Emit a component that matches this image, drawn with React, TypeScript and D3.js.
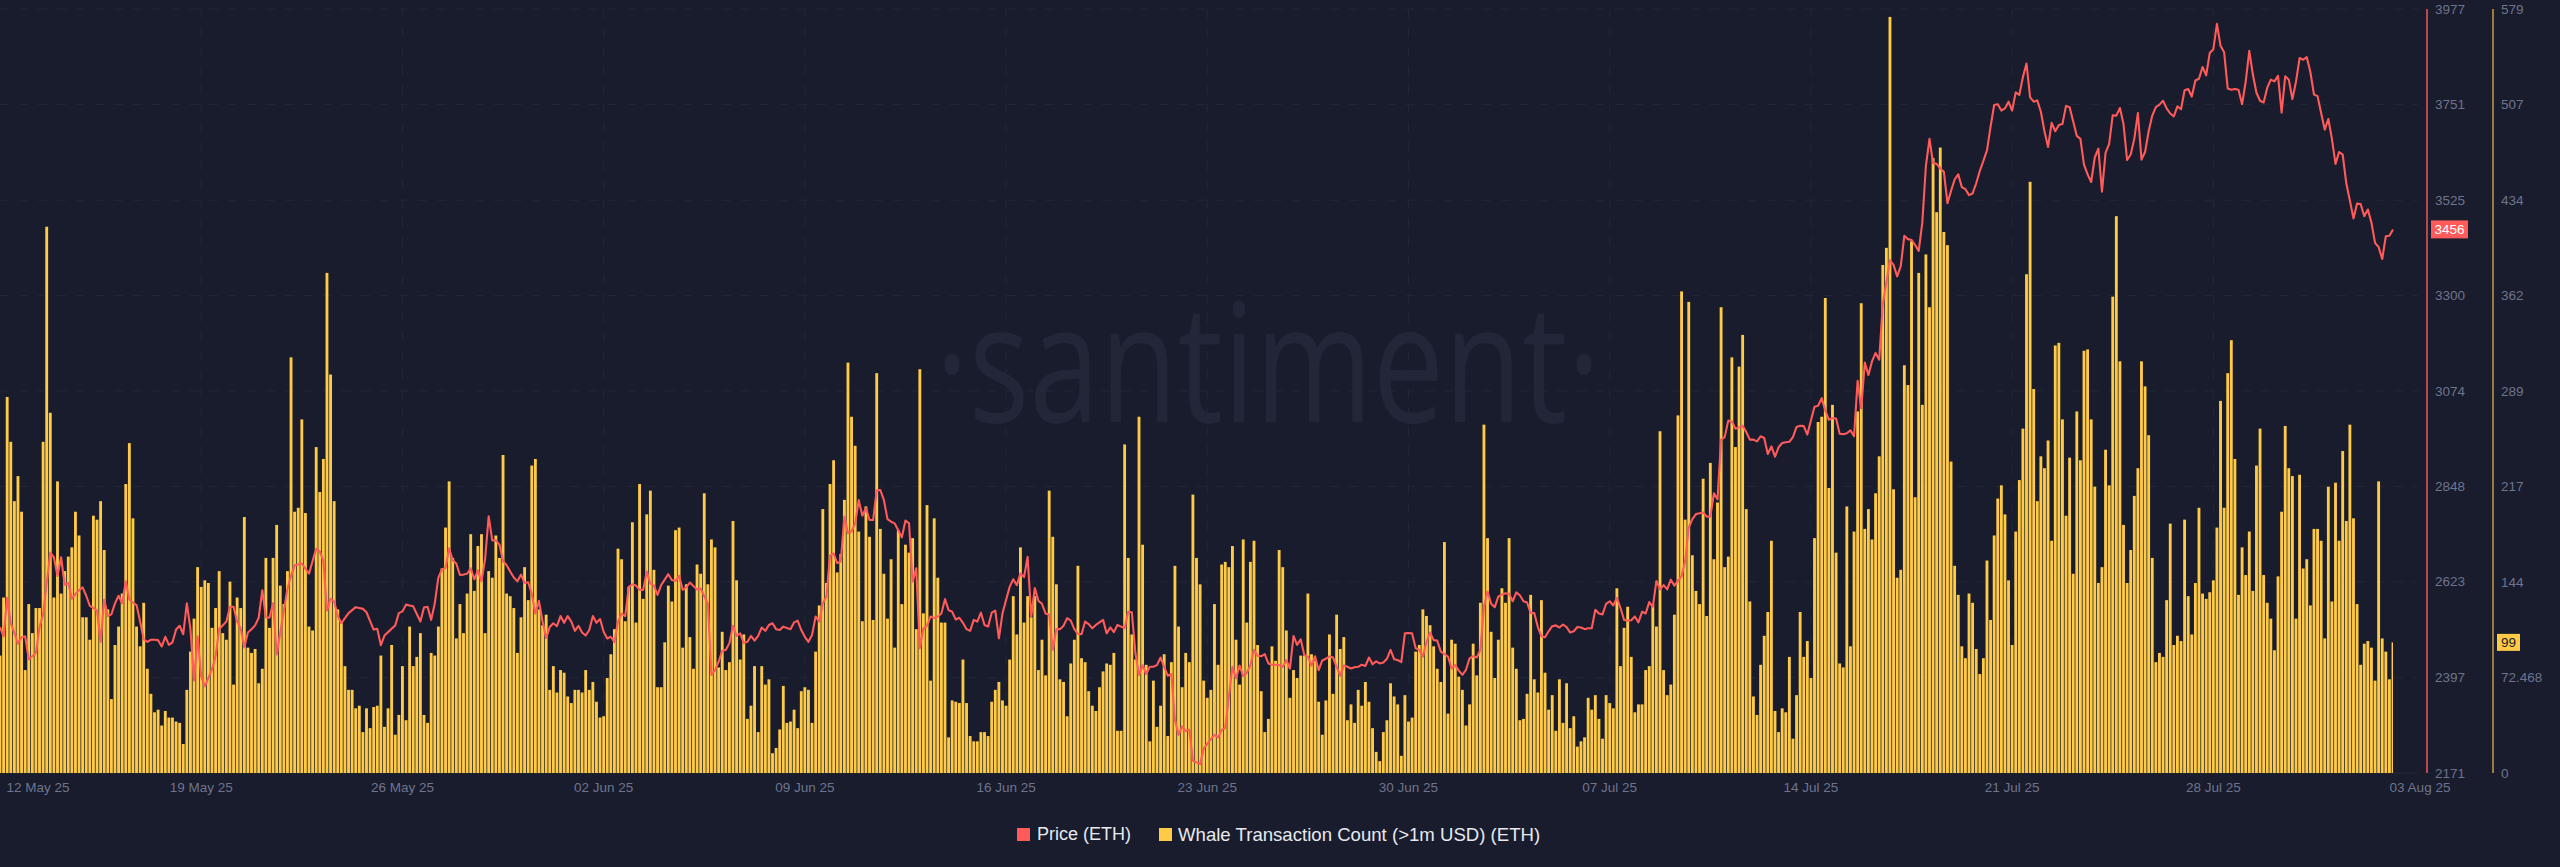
import React from "react";
import * as d3 from "d3";

// 3-hourly samples from 12 May 2025 00:00 UTC
const START = Date.UTC(2025, 4, 12);
const STEP = 3 * 3600 * 1000;

const whaleA = [89,133,285,251,206,225,198,78,128,106,125,125,251,414,273,133,221,136,153,164,171,198,180,118,118,101,195,192,206,169,124,56,97,111,136,219,250,193,111,96,129,79,60,46,48,36,47,42,42,39,38,22,63,92,117,156,141,146,144,110,125,153,106,101,145,67,133,125,194,95,91,94,68,79,163,110,163,188,142,128,153,315,198,201];
const whaleB = [268,197,111,108,247,213,238,379,302,206,124,115,81,63,63,49,51,31,49,34,50,51,89,35,49,97,29,44,81,40,111,81,88,106,44,38,91,89,111,155,186,221,163,102,128,106,136,181,138,172,181,106,153,148,180,163,241,136,134,125,91,118,156,131,233,238,124,112,120,63,81,61,78,76,58,53,63,63,61,78,63,69,54,42];
const whaleC = [43,72,90,109,170,162,115,141,190,114,219,132,196,214,154,65,65,99,142,130,184,186,95,143,103,79,158,151,212,143,177,171,80,107,78,84,191,146,86,105,41,51,81,31,81,67,71,15,19,33,66,38,39,48,34,62,65,63,38,92,127,200,144,219,237,152,166,207,311,270,248,183,115,202,179,116,303,185,151,117,162,95,184];
const whaleD = [128,173,167,178,109,306,121,203,70,193,148,114,114,27,55,54,53,86,53,28,24,24,31,31,28,54,63,69,55,51,86,134,105,171,114,134,118,134,78,101,74,214,179,143,71,69,43,83,101,157,87,84,62,51,47,65,77,83,82,91,32,32,249,163,105,86,270,173,82,24,70,35,51,90,28,84,157,111,65,91,84,211,163,143];
const whaleE = [70,57,63,128,82,158,160,156,172,101,67,177,114,160,176,97,62,31,41,96,85,169,156,108,57,78,72,89,89,136,90,85,54,29,55,105,60,120,94,103,40,52,38,63,51,69,54,34,16,9,31,40,68,58,52,13,59,39,42,92,97,124,119,112,96,79,69,175,45,101,98,73,63,36,52,98,74,129,264,178,107,72,101];
const whaleF = [140,129,178,95,79,40,41,60,135,71,61,131,76,48,59,32,71,38,68,34,43,20,24,27,57,48,59,41,26,59,53,49,140,81,110,126,88,46,52,52,78,81,128,111,259,78,59,67,120,271,365,192,357,165,138,128,223,119,235,162,205,353,156,164,315,247,308,332,200,130,58,44,82,104,122,176,47,31,49,46,88,26,59];
const whaleG = [122,88,100,72,178,266,270,360,216,279,167,83,80,202,96,183,274,356,185,200,177,212,240,385,398,573,215,148,154,309,294,403,209,379,279,393,353,466,425,474,410,400,236,157,135,96,87,136,129,94,75,87,161,116,180,208,218,196,146,97,183,222,261,378,448,291,206,240,231,252,176,324,326,268,195,239,151,274,237,320,321,268,217,144];
const whaleH = [156,245,218,361,422,312,188,144,169,210,231,312,293,256,163,84,91,88,131,189,97,104,100,192,134,105,144,201,136,132,137,146,186,282,201,303,328,238,135,171,150,183,138,233,261,150,129,117,93,149,198,263,231,225,117,226,155,162,127,185,185,176,102,217,130,220,176,244,191,264,193,128,82,98,100,95,70,221,102,92,71,99];
const whaleCounts = [...whaleA, ...whaleB, ...whaleC, ...whaleD, ...whaleE, ...whaleF, ...whaleG, ...whaleH];

const priceA = [2516,2494,2585,2525,2502,2477,2492,2494,2440,2447,2455,2516,2546,2620,2692,2681,2637,2681,2616,2620,2583,2594,2603,2610,2590,2566,2561,2555,2481,2581,2542,2546,2572,2590,2572,2624,2581,2574,2568,2529,2487,2481,2486,2486,2485,2470,2493,2474,2480,2510,2519,2499,2572,2512,2390,2494,2399,2376,2396,2416,2447,2512,2520,2529,2564,2564,2529,2512,2468,2503,2511,2520,2538,2603,2539,2538,2572,2451,2503,2555,2607,2637,2662,2664];
const priceB = [2666,2654,2642,2672,2701,2695,2672,2555,2583,2577,2542,2525,2537,2549,2556,2563,2561,2559,2551,2530,2510,2512,2473,2496,2504,2512,2520,2549,2553,2569,2567,2565,2547,2529,2562,2564,2533,2572,2633,2652,2656,2702,2674,2666,2639,2640,2642,2655,2629,2650,2624,2676,2778,2721,2721,2711,2672,2662,2647,2633,2624,2640,2620,2622,2594,2548,2578,2529,2490,2516,2525,2518,2542,2526,2542,2529,2507,2519,2503,2496,2509,2542,2526,2535];
const priceC = [2505,2489,2493,2480,2529,2548,2542,2611,2617,2614,2604,2604,2647,2619,2614,2592,2615,2628,2641,2627,2625,2637,2604,2610,2621,2613,2605,2607,2589,2572,2403,2414,2434,2460,2462,2478,2519,2495,2501,2478,2481,2495,2484,2495,2515,2507,2521,2525,2511,2509,2517,2514,2511,2527,2531,2509,2493,2481,2497,2541,2529,2572,2588,2685,2690,2667,2671,2777,2738,2742,2761,2816,2779,2797,2769,2769,2839,2840,2816,2771,2765,2761,2745];
const priceD = [2728,2768,2761,2623,2655,2466,2513,2519,2541,2537,2541,2548,2582,2556,2552,2534,2538,2526,2511,2507,2533,2529,2550,2521,2517,2550,2555,2489,2548,2580,2611,2629,2615,2643,2634,2682,2541,2608,2578,2571,2548,2545,2462,2511,2511,2519,2537,2531,2511,2500,2499,2529,2523,2513,2521,2527,2533,2501,2515,2504,2521,2517,2513,2552,2551,2454,2403,2426,2405,2422,2422,2426,2444,2422,2401,2405,2296,2261,2281,2270,2273,2200,2196,2192];
const priceE = [2229,2240,2251,2261,2255,2273,2278,2351,2422,2395,2425,2400,2408,2426,2462,2448,2447,2452,2430,2427,2427,2426,2422,2438,2418,2495,2474,2487,2450,2446,2425,2447,2414,2437,2441,2447,2444,2422,2401,2425,2422,2418,2421,2422,2427,2424,2444,2428,2435,2430,2432,2441,2462,2440,2438,2433,2501,2502,2501,2466,2462,2446,2481,2503,2485,2484,2458,2452,2446,2418,2426,2413,2403,2415,2442,2447,2444,2462,2564,2600,2571,2563,2588];
const priceF = [2593,2596,2594,2577,2598,2591,2577,2574,2549,2549,2516,2494,2492,2506,2518,2520,2515,2522,2516,2503,2506,2516,2515,2511,2513,2513,2557,2548,2546,2571,2577,2567,2585,2561,2533,2531,2532,2541,2527,2552,2548,2575,2564,2625,2605,2615,2605,2628,2614,2626,2636,2672,2751,2771,2783,2785,2787,2777,2777,2832,2818,2959,2965,3004,3002,2985,2988,2992,2977,2959,2959,2955,2967,2963,2925,2943,2919,2941,2951,2953,2954,2965,2989];
const priceG = [2992,2991,2971,3004,3037,3039,3057,3028,3006,3010,3009,2973,2972,2974,2981,2967,3098,3033,3141,3112,3144,3164,3148,3279,3331,3383,3372,3345,3369,3441,3433,3431,3419,3405,3472,3606,3670,3612,3611,3600,3592,3518,3547,3574,3586,3556,3551,3537,3541,3565,3594,3618,3643,3699,3750,3752,3737,3742,3758,3737,3780,3774,3816,3848,3768,3758,3761,3734,3688,3651,3708,3688,3703,3705,3748,3745,3711,3677,3670,3609,3586,3568,3626,3647];
const priceH = [3545,3637,3658,3726,3725,3743,3705,3620,3633,3670,3731,3621,3639,3688,3725,3745,3751,3760,3742,3730,3723,3747,3740,3785,3788,3770,3808,3812,3840,3820,3873,3882,3942,3890,3875,3789,3786,3788,3786,3752,3805,3878,3822,3779,3760,3756,3791,3810,3806,3819,3732,3818,3810,3764,3805,3861,3857,3863,3828,3775,3771,3731,3692,3717,3670,3611,3639,3633,3565,3524,3482,3517,3516,3487,3503,3472,3424,3414,3386,3440,3441,3456];
const prices = [...priceA, ...priceB, ...priceC, ...priceD, ...priceE, ...priceF, ...priceG, ...priceH];

const priceTicks = [3977, 3751, 3525, 3300, 3074, 2848, 2623, 2397, 2171];
const whaleTicks = [579, 507, 434, 362, 289, 217, 144, 72.468, 0];
const weekTicks = ["2025-05-19","2025-05-26","2025-06-02","2025-06-09","2025-06-16","2025-06-23","2025-06-30","2025-07-07","2025-07-14","2025-07-21","2025-07-28"];
const firstDate = "2025-05-12";
const lastDate = "2025-08-03";
const legendPrice = "Price (ETH)";
const legendWhale = "Whale Transaction Count (>1m USD) (ETH)";

const BG = "#181c2c";
const GRID = "#232738";
const RED = "#ff5b5b";
const YELLOW = "#ffcb47";
const MUTED = "#6f748c";
const FONT = "'Liberation Sans', Arial, sans-serif";

const W = 2560, H = 867, TOP = 9, BOTTOM = 773, RIGHT = 2393;

export default function App() {
  const t = (i: number) => new Date(START + i * STEP);
  const x = d3.scaleUtc().domain([t(0), t(whaleCounts.length - 1)]).range([0, RIGHT]);
  const yP = d3.scaleLinear().domain([2171, 3977]).range([BOTTOM, TOP]);
  const yW = d3.scaleLinear().domain([0, 579]).range([BOTTOM, TOP]);
  const fmt = d3.utcFormat("%d %b %y");
  const line = d3.line<number>().x((_, i) => x(t(i))).y((d) => yP(d));
  const barW = 2.85;
  const lastP = prices[prices.length - 1];
  const lastW = whaleCounts[whaleCounts.length - 1];
  const dash = "9 10";
  return (
    <svg width={W} height={H} viewBox={`0 0 ${W} ${H}`} style={{ position: "absolute", left: 0, top: 0, display: "block" }} fontFamily={FONT}>
      <defs>
        <clipPath id="plot"><rect x={0} y={0} width={RIGHT} height={BOTTOM} /></clipPath>
      </defs>
      <rect width={W} height={H} fill={BG} />
      <text x={1268} y={422} textAnchor="middle" fontFamily="'Open Sans', sans-serif" fontSize={165} fill="#222638" transform="translate(1268 0) scale(0.77 1) translate(-1268 0)">·santiment·</text>
      {priceTicks.map((v) => (
        <line key={v} x1={0} x2={2418} y1={yP(v)} y2={yP(v)} stroke={GRID} strokeWidth={1} strokeDasharray={v === 2171 ? undefined : dash} />
      ))}
      {weekTicks.map((d) => {
        const px = x(new Date(d + "T00:00:00Z"));
        return <line key={d} x1={px} x2={px} y1={TOP} y2={BOTTOM} stroke={GRID} strokeWidth={1} strokeDasharray={dash} />;
      })}
      <g clipPath="url(#plot)">
        {whaleCounts.map((v, i) => (
          <rect key={i} x={x(t(i)) - barW / 2} y={yW(v)} width={barW} height={BOTTOM - yW(v)} fill={YELLOW} />
        ))}
      </g>
      <path d={line(prices) ?? ""} fill="none" stroke={RED} strokeWidth={2.1} strokeLinejoin="round" />
      <line x1={2427} x2={2427} y1={TOP} y2={BOTTOM} stroke={RED} strokeWidth={1.4} />
      <line x1={2493} x2={2493} y1={TOP} y2={BOTTOM} stroke="#d3a83f" strokeWidth={1.4} />
      <g fontSize={13.5} fill={MUTED} dominantBaseline="central">
        {priceTicks.map((v) => <text key={v} x={2435} y={yP(v)}>{v}</text>)}
        {whaleTicks.map((v) => <text key={v} x={2501} y={yW(v)}>{v}</text>)}
      </g>
      <g fontSize={13.5} fill={MUTED} textAnchor="middle" dominantBaseline="central">
        <text x={38} y={787}>{fmt(new Date(firstDate + "T00:00:00Z"))}</text>
        {weekTicks.map((d) => {
          const dt = new Date(d + "T00:00:00Z");
          return <text key={d} x={x(dt)} y={787}>{fmt(dt)}</text>;
        })}
        <text x={2420} y={787}>{fmt(new Date(lastDate + "T00:00:00Z"))}</text>
      </g>
      <rect x={2431} y={yP(lastP) - 9} width={37} height={18} fill={RED} />
      <text x={2449.5} y={yP(lastP)} fontSize={13.5} fill="#fff" textAnchor="middle" dominantBaseline="central">{lastP}</text>
      <rect x={2497} y={yW(lastW) - 8.5} width={23} height={17} fill={YELLOW} />
      <text x={2508.5} y={yW(lastW)} fontSize={13.5} fill="#181c2c" textAnchor="middle" dominantBaseline="central">{lastW}</text>
      <rect x={1017} y={828} width={13} height={13} fill={RED} />
      <text x={1037} y={834} fontSize={18} fill="#e7e9f0" dominantBaseline="central">{legendPrice}</text>
      <rect x={1159} y={828} width={13} height={13} fill={YELLOW} />
      <text x={1178} y={834} fontSize={18.6} fill="#e7e9f0" dominantBaseline="central">{legendWhale}</text>
    </svg>
  );
}
